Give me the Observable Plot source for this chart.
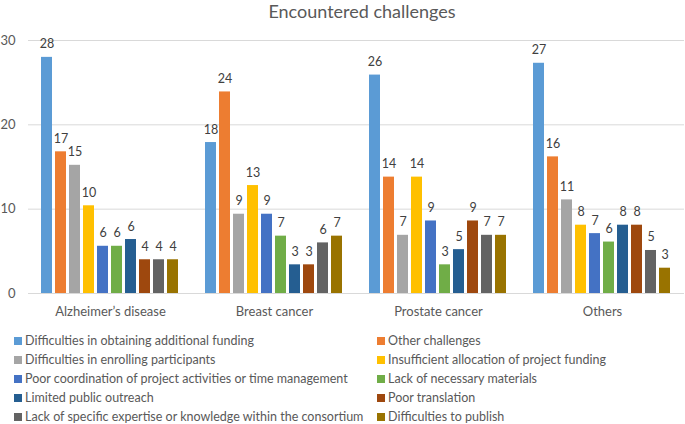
<!DOCTYPE html>
<html>
<head>
<meta charset="utf-8">
<script src="https://cdn.jsdelivr.net/npm/d3@7"></script>
<script src="https://cdn.jsdelivr.net/npm/@observablehq/plot@0.6"></script>
<style>
  body { margin: 0; background: #fff; font-family: Lato, "Open Sans", sans-serif; }
  #wrap { position: relative; width: 685px; height: 424px; overflow: hidden; }
  #title { position: absolute; top: 0px; left: 212px; width: 300px; text-align: center; font-size: 18px; color: #595959; line-height: 22px; }
  #chart { position: absolute; top: 25px; left: 0; }
  #legend { position: absolute; top: 331px; left: 14px; width: 671px; display: grid; grid-template-columns: 363px 300px; font-size: 12.5px; color: #595959; }
  .item { height: 19px; line-height: 19px; white-space: nowrap; display: flex; align-items: center; }
  .sw { width: 8px; height: 8px; margin-right: 3px; flex: none; }
</style>
</head>
<body>
<div id="wrap">
  <div id="title">Encountered challenges</div>
  <div id="chart"></div>
  <div id="legend"></div>
</div>
<script>
const groups = ["Alzheimer’s disease", "Breast cancer", "Prostate cancer", "Others"];
const series = [
  "Difficulties in obtaining additional funding",
  "Other challenges",
  "Difficulties in enrolling participants",
  "Insufficient allocation of project funding",
  "Poor coordination of project activities or time management",
  "Lack of necessary materials",
  "Limited public outreach",
  "Poor translation",
  "Lack of specific expertise or knowledge within the consortium",
  "Difficulties to publish"
];
const alzheimers = [28.0, 16.8, 15.2, 10.4, 5.6, 5.6, 6.4, 4.0, 4.0, 4.0];
const breastCancer = [17.9, 23.9, 9.4, 12.8, 9.4, 6.8, 3.4, 3.4, 6.0, 6.8];
const prostateCancer = [25.9, 13.8, 6.9, 13.8, 8.6, 3.4, 5.2, 8.6, 6.9, 6.9];
const others = [27.3, 16.2, 11.1, 8.1, 7.1, 6.1, 8.1, 8.1, 5.1, 3.0];
const yTicks = [0, 10, 20, 30];
const colors = ["#5B9BD5", "#ED7D31", "#A5A5A5", "#FFC000", "#4472C4", "#70AD47", "#255E91", "#9E480E", "#636363", "#997300"];

const valuesByGroup = [alzheimers, breastCancer, prostateCancer, others];
const data = [];
groups.forEach((g, gi) => series.forEach((s, si) => data.push({group: g, series: s, value: valuesByGroup[gi][si]})));

const chart = Plot.plot({
  width: 685,
  height: 300,
  marginTop: 15,
  marginBottom: 32,
  marginLeft: 27,
  marginRight: 1,
  style: {fontFamily: "Lato, 'Open Sans', sans-serif", background: "transparent"},
  fx: {domain: groups, padding: 0, label: null},
  x: {domain: series, paddingInner: 0.18, paddingOuter: 0.86, axis: null},
  y: {domain: [0, 30], label: null},
  color: {domain: series, range: colors},
  marks: [
    Plot.ruleY(yTicks, {stroke: "#d9d9d9", strokeWidth: 1}),
    Plot.barY(data, {fx: "group", x: "series", y: "value", fill: "series"}),
    Plot.text(data, {fx: "group", x: "series", y: "value", text: d => String(Math.round(d.value)), dy: -13, fill: "#404040", fontSize: 12.5}),
    Plot.axisY({ticks: yTicks, tickSize: 0, tickPadding: 13, fontSize: 13, color: "#595959", label: null}),
    Plot.axisFx({anchor: "bottom", tickSize: 0, tickPadding: 13, fontSize: 13, color: "#595959", label: null})
  ]
});
document.getElementById("chart").appendChild(chart);

const legend = document.getElementById("legend");
series.forEach((s, i) => {
  const item = document.createElement("div");
  item.className = "item";
  const sw = document.createElement("span");
  sw.className = "sw";
  sw.style.background = colors[i];
  const t = document.createElement("span");
  t.textContent = s;
  item.appendChild(sw);
  item.appendChild(t);
  legend.appendChild(item);
});
</script>
</body>
</html>
